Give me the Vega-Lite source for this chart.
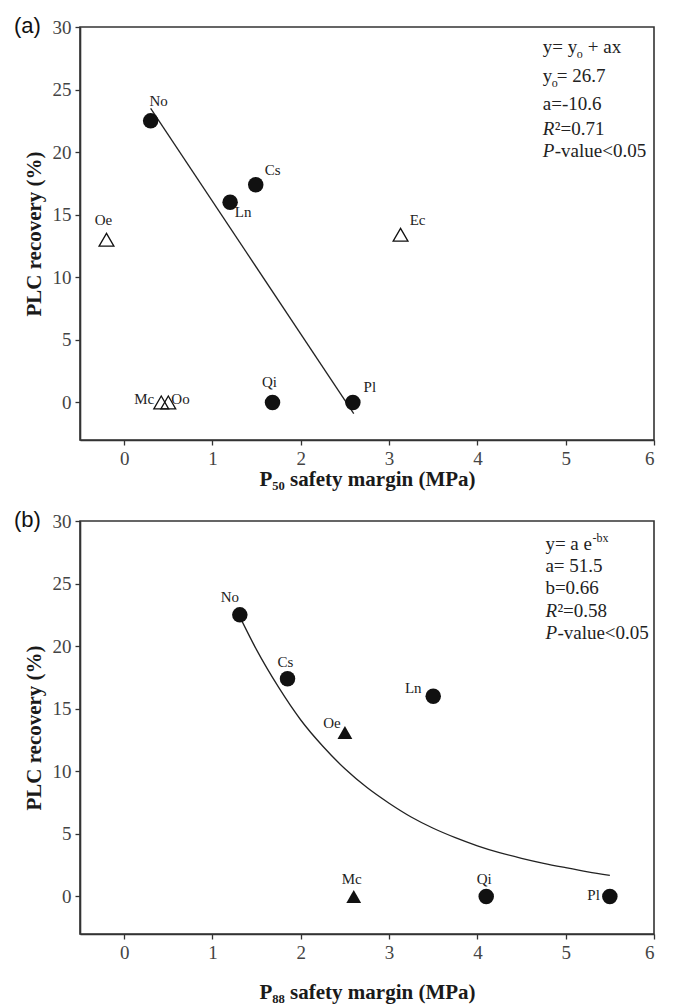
{
  "$schema": "https://vega.github.io/schema/vega-lite/v6.json",
  "padding": {"left": 13, "top": 14, "right": 10, "bottom": 2},
  "spacing": 18,
  "config": {
    "font": "Liberation Serif",
    "view": {"stroke": "#333", "strokeWidth": 1.6},
    "axis": {
      "grid": false, "domainColor": "#333", "domainWidth": 1.6,
      "tickColor": "#333", "tickWidth": 1.3, "tickSize": 5,
      "labelFont": "Liberation Serif", "labelFontSize": 19, "labelColor": "#444", "labelPadding": 4,
      "titleFont": "Liberation Serif", "titleFontSize": 21, "titleFontWeight": "bold", "titleColor": "#1a1a1a"
    },
    "axisY": {"titlePadding": 8},
    "text": {"font": "Liberation Serif"},
    "title": {"anchor": "start", "frame": "bounds", "font": "Liberation Sans", "fontSize": 22, "fontWeight": "normal", "color": "#111", "offset": -20, "dx": -9}
  },
  "datasets": {
    "a": [
      {"sp": "No", "x": 0.3, "y": 22.5, "fit": "included"},
      {"sp": "Ln", "x": 1.2, "y": 16.0, "fit": "included"},
      {"sp": "Cs", "x": 1.49, "y": 17.4, "fit": "included"},
      {"sp": "Qi", "x": 1.68, "y": 0, "fit": "included"},
      {"sp": "Pl", "x": 2.59, "y": 0, "fit": "included"},
      {"sp": "Oe", "x": -0.2, "y": 13.0, "fit": "excluded"},
      {"sp": "Ec", "x": 3.13, "y": 13.4, "fit": "excluded"},
      {"sp": "Mc", "x": 0.42, "y": 0, "fit": "excluded"},
      {"sp": "Oo", "x": 0.5, "y": 0, "fit": "excluded"}
    ],
    "b": [
      {"sp": "No", "x": 1.31, "y": 22.5, "fit": "included"},
      {"sp": "Cs", "x": 1.85, "y": 17.4, "fit": "included"},
      {"sp": "Ln", "x": 3.5, "y": 16.0, "fit": "included"},
      {"sp": "Qi", "x": 4.1, "y": 0, "fit": "included"},
      {"sp": "Pl", "x": 5.5, "y": 0, "fit": "included"},
      {"sp": "Oe", "x": 2.5, "y": 13.1, "fit": "excluded"},
      {"sp": "Mc", "x": 2.6, "y": 0, "fit": "excluded"}
    ],
    "fitA": [
      {"x": 0.3, "y": 23.5},
      {"x": 2.6, "y": -0.9}
    ],
    "fitB": [
      {"x": 1.32, "y": 22.2},
      {"x": 1.5, "y": 19.7},
      {"x": 1.75, "y": 16.7},
      {"x": 2.0, "y": 14.1},
      {"x": 2.25, "y": 12.0},
      {"x": 2.5, "y": 10.2},
      {"x": 2.75, "y": 8.7},
      {"x": 3.0, "y": 7.45},
      {"x": 3.25, "y": 6.35},
      {"x": 3.5, "y": 5.45},
      {"x": 3.75, "y": 4.7},
      {"x": 4.0, "y": 4.05},
      {"x": 4.25, "y": 3.5},
      {"x": 4.5, "y": 3.05},
      {"x": 4.75, "y": 2.65},
      {"x": 5.0, "y": 2.3},
      {"x": 5.25, "y": 1.97},
      {"x": 5.5, "y": 1.68}
    ],
    "noteA": [
      {"x": 4.74, "y": 27.9, "t": "y= y", "sub": "o", "rest": "+ ax"},
      {"x": 4.74, "y": 25.6, "t": "y", "sub": "o", "rest": "= 26.7"},
      {"x": 4.74, "y": 23.4, "t": "a=-10.6"},
      {"x": 4.74, "y": 21.4, "it": "R", "rest": "²=0.71"},
      {"x": 4.74, "y": 19.6, "it": "P", "rest": "-value<0.05"}
    ],
    "noteB": [
      {"x": 4.77, "y": 27.7, "t": "y= a e", "sup": "-bx"},
      {"x": 4.77, "y": 25.9, "t": "a= 51.5"},
      {"x": 4.77, "y": 24.2, "t": "b=0.66"},
      {"x": 4.77, "y": 22.3, "it": "R", "rest": "²=0.58"},
      {"x": 4.77, "y": 20.6, "it": "P", "rest": "-value<0.05"}
    ]
  },
  "vconcat": [
    {
      "width": 574,
      "height": 413,
      "title": {"text": "(a)"},
      "encoding": {
        "x": {"field": "x", "type": "quantitative", "scale": {"domain": [-0.5, 6], "nice": false, "zero": false},
              "axis": {"values": [0, 1, 2, 3, 4, 5, 6], "title": "P₅₀ safety margin (MPa)", "titlePadding": 0}},
        "y": {"field": "y", "type": "quantitative", "scale": {"domain": [-3, 30], "nice": false, "zero": false},
              "axis": {"values": [0, 5, 10, 15, 20, 25, 30], "title": "PLC recovery (%)"}}
      },
      "layer": [
        {"data": {"name": "fitA"}, "mark": {"type": "line", "color": "#222", "strokeWidth": 1.3}},
        {"data": {"name": "a"}, "transform": [{"filter": "datum.fit == 'included'"}],
         "mark": {"type": "point", "shape": "circle", "filled": true, "color": "#111", "size": 240, "opacity": 1}},
        {"data": {"name": "a"}, "transform": [{"filter": "datum.fit == 'excluded'"}],
         "mark": {"type": "point", "shape": "triangle-up", "filled": false, "color": "#111", "strokeWidth": 1.3, "size": 220, "opacity": 1}},
        {"data": {"name": "a"}, "transform": [{"filter": "datum.sp == 'No'"}],
         "mark": {"type": "text", "fontSize": 15, "color": "#222", "dx": 8, "dy": -20}, "encoding": {"text": {"field": "sp"}}},
        {"data": {"name": "a"}, "transform": [{"filter": "indexof(['Cs','Ec','Pl'], datum.sp) >= 0"}],
         "mark": {"type": "text", "fontSize": 15, "color": "#222", "dx": 17, "dy": -15}, "encoding": {"text": {"field": "sp"}}},
        {"data": {"name": "a"}, "transform": [{"filter": "datum.sp == 'Ln'"}],
         "mark": {"type": "text", "fontSize": 15, "color": "#222", "dx": 13, "dy": 10}, "encoding": {"text": {"field": "sp"}}},
        {"data": {"name": "a"}, "transform": [{"filter": "indexof(['Oe','Qi'], datum.sp) >= 0"}],
         "mark": {"type": "text", "fontSize": 15, "color": "#222", "dx": -3, "dy": -20}, "encoding": {"text": {"field": "sp"}}},
        {"data": {"name": "a"}, "transform": [{"filter": "datum.sp == 'Mc'"}],
         "mark": {"type": "text", "fontSize": 15, "color": "#222", "align": "right", "dx": -7, "dy": -3}, "encoding": {"text": {"field": "sp"}}},
        {"data": {"name": "a"}, "transform": [{"filter": "datum.sp == 'Oo'"}],
         "mark": {"type": "text", "fontSize": 15, "color": "#222", "align": "left", "dx": 3, "dy": -3}, "encoding": {"text": {"field": "sp"}}},
        {"data": {"name": "noteA"}, "transform": [{"filter": "isValid(datum.t)"}],
         "mark": {"type": "text", "fontSize": 19, "color": "#222", "align": "left", "baseline": "alphabetic"}, "encoding": {"text": {"field": "t"}}},
        {"data": {"name": "noteA"}, "transform": [{"filter": "datum.t == 'y= y'"}],
         "mark": {"type": "text", "fontSize": 12, "color": "#222", "align": "left", "baseline": "alphabetic", "dx": 34, "dy": 5}, "encoding": {"text": {"field": "sub"}}},
        {"data": {"name": "noteA"}, "transform": [{"filter": "datum.t == 'y= y'"}],
         "mark": {"type": "text", "fontSize": 19, "color": "#222", "align": "left", "baseline": "alphabetic", "dx": 45}, "encoding": {"text": {"field": "rest"}}},
        {"data": {"name": "noteA"}, "transform": [{"filter": "datum.t == 'y'"}],
         "mark": {"type": "text", "fontSize": 12, "color": "#222", "align": "left", "baseline": "alphabetic", "dx": 9, "dy": 5}, "encoding": {"text": {"field": "sub"}}},
        {"data": {"name": "noteA"}, "transform": [{"filter": "datum.t == 'y'"}],
         "mark": {"type": "text", "fontSize": 19, "color": "#222", "align": "left", "baseline": "alphabetic", "dx": 14}, "encoding": {"text": {"field": "rest"}}},
        {"data": {"name": "noteA"}, "transform": [{"filter": "isValid(datum.it)"}],
         "mark": {"type": "text", "fontSize": 19, "color": "#222", "align": "left", "baseline": "alphabetic", "fontStyle": "italic"}, "encoding": {"text": {"field": "it"}}},
        {"data": {"name": "noteA"}, "transform": [{"filter": "isValid(datum.it)"}],
         "mark": {"type": "text", "fontSize": 19, "color": "#222", "align": "left", "baseline": "alphabetic", "dx": 12}, "encoding": {"text": {"field": "rest"}}}
      ]
    },
    {
      "width": 574,
      "height": 413,
      "title": {"text": "(b)"},
      "encoding": {
        "x": {"field": "x", "type": "quantitative", "scale": {"domain": [-0.5, 6], "nice": false, "zero": false},
              "axis": {"values": [0, 1, 2, 3, 4, 5, 6], "title": "P₈₈ safety margin (MPa)", "titlePadding": 19}},
        "y": {"field": "y", "type": "quantitative", "scale": {"domain": [-3, 30], "nice": false, "zero": false},
              "axis": {"values": [0, 5, 10, 15, 20, 25, 30], "title": "PLC recovery (%)"}}
      },
      "layer": [
        {"data": {"name": "fitB"}, "mark": {"type": "line", "color": "#222", "strokeWidth": 1.3, "interpolate": "monotone"}},
        {"data": {"name": "b"}, "transform": [{"filter": "datum.fit == 'included'"}],
         "mark": {"type": "point", "shape": "circle", "filled": true, "color": "#111", "size": 240, "opacity": 1}},
        {"data": {"name": "b"}, "transform": [{"filter": "datum.fit == 'excluded'"}],
         "mark": {"type": "point", "shape": "triangle-up", "filled": true, "color": "#111", "size": 220, "opacity": 1}},
        {"data": {"name": "b"}, "transform": [{"filter": "datum.sp == 'No'"}],
         "mark": {"type": "text", "fontSize": 15, "color": "#222", "dx": -10, "dy": -18}, "encoding": {"text": {"field": "sp"}}},
        {"data": {"name": "b"}, "transform": [{"filter": "indexof(['Cs','Mc','Qi'], datum.sp) >= 0"}],
         "mark": {"type": "text", "fontSize": 15, "color": "#222", "dx": -2, "dy": -17}, "encoding": {"text": {"field": "sp"}}},
        {"data": {"name": "b"}, "transform": [{"filter": "datum.sp == 'Oe'"}],
         "mark": {"type": "text", "fontSize": 15, "color": "#222", "dx": -13, "dy": -10}, "encoding": {"text": {"field": "sp"}}},
        {"data": {"name": "b"}, "transform": [{"filter": "datum.sp == 'Ln'"}],
         "mark": {"type": "text", "fontSize": 15, "color": "#222", "dx": -20, "dy": -8}, "encoding": {"text": {"field": "sp"}}},
        {"data": {"name": "b"}, "transform": [{"filter": "datum.sp == 'Pl'"}],
         "mark": {"type": "text", "fontSize": 15, "color": "#222", "align": "right", "dx": -10, "dy": -1}, "encoding": {"text": {"field": "sp"}}},
        {"data": {"name": "noteB"}, "transform": [{"filter": "isValid(datum.t)"}],
         "mark": {"type": "text", "fontSize": 19, "color": "#222", "align": "left", "baseline": "alphabetic"}, "encoding": {"text": {"field": "t"}}},
        {"data": {"name": "noteB"}, "transform": [{"filter": "isValid(datum.sup)"}],
         "mark": {"type": "text", "fontSize": 12, "color": "#222", "align": "left", "baseline": "alphabetic", "dx": 47, "dy": -8}, "encoding": {"text": {"field": "sup"}}},
        {"data": {"name": "noteB"}, "transform": [{"filter": "isValid(datum.it)"}],
         "mark": {"type": "text", "fontSize": 19, "color": "#222", "align": "left", "baseline": "alphabetic", "fontStyle": "italic"}, "encoding": {"text": {"field": "it"}}},
        {"data": {"name": "noteB"}, "transform": [{"filter": "isValid(datum.it)"}],
         "mark": {"type": "text", "fontSize": 19, "color": "#222", "align": "left", "baseline": "alphabetic", "dx": 12}, "encoding": {"text": {"field": "rest"}}}
      ]
    }
  ]
}
